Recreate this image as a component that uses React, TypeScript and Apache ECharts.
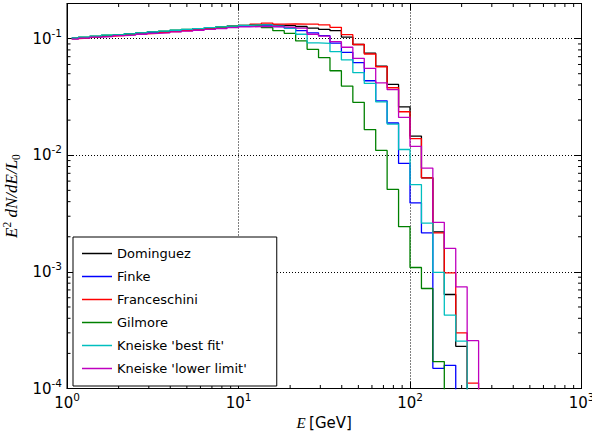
import React, { useEffect, useRef } from "react";
import * as echarts from "echarts";

// Bin edges (GeV): first bin starts at ~1.065, then 15 log bins per decade
const binEdges = [
  1.065, 1.166, 1.359, 1.585, 1.848, 2.154, 2.512, 2.929, 3.415, 3.981,
  4.642, 5.412, 6.31, 7.356, 8.577, 10.0, 11.66, 13.59, 15.85, 18.48,
  21.54, 25.12, 29.29, 34.15, 39.81, 46.42, 54.12, 63.1, 73.56, 85.77,
  100.0, 116.6, 135.9, 158.5, 184.8, 215.4, 251.2, 292.9,
];

const dominguez = [
  0.1, 0.102, 0.104, 0.106, 0.107, 0.109, 0.111, 0.113, 0.115, 0.117,
  0.119, 0.121, 0.123, 0.125, 0.127, 0.129, 0.131, 0.131, 0.13, 0.129,
  0.127, 0.123, 0.12, 0.117, 0.103, 0.089, 0.075, 0.058, 0.0405, 0.026,
  0.0146, 0.0064, 0.0022, 0.00064, 0.00023,
];
const finke = [
  0.101, 0.102, 0.104, 0.105, 0.107, 0.109, 0.111, 0.113, 0.115, 0.117,
  0.119, 0.12, 0.122, 0.124, 0.126, 0.128, 0.129, 0.129, 0.127, 0.123,
  0.117, 0.112, 0.106, 0.0913, 0.0763, 0.0622, 0.0435, 0.0293, 0.0189, 0.0085,
  0.0039, 0.00216, 0.000149, 0.000158,
];
const franceschini = [
  0.1, 0.101, 0.103, 0.105, 0.106, 0.108, 0.11, 0.111, 0.113, 0.115,
  0.117, 0.12, 0.122, 0.125, 0.128, 0.13, 0.133, 0.136, 0.133, 0.134,
  0.133, 0.133, 0.131, 0.125, 0.108, 0.089, 0.0738, 0.0574, 0.0379, 0.0236,
  0.0139, 0.0064, 0.00216, 0.00098, 0.0003, 0.000111,
];
const gilmore = [
  0.101, 0.103, 0.105, 0.107, 0.108, 0.11, 0.112, 0.114, 0.116, 0.118,
  0.12, 0.122, 0.124, 0.126, 0.128, 0.13, 0.13, 0.124, 0.117, 0.111,
  0.0955, 0.081, 0.0687, 0.053, 0.0392, 0.0284, 0.0166, 0.011, 0.00509, 0.00244,
  0.00109, 0.00072, 0.00017,
];
const kneiskeBest = [
  0.101, 0.103, 0.105, 0.107, 0.108, 0.11, 0.112, 0.114, 0.116, 0.118,
  0.12, 0.122, 0.124, 0.126, 0.128, 0.13, 0.131, 0.131, 0.128, 0.123,
  0.109, 0.092, 0.091, 0.0773, 0.0656, 0.051, 0.0413, 0.0287, 0.0185, 0.0112,
  0.0056, 0.00262, 0.00099, 0.000425, 0.000255,
];
const kneiskeLower = [
  0.099, 0.101, 0.103, 0.104, 0.106, 0.107, 0.109, 0.111, 0.112, 0.114,
  0.116, 0.118, 0.12, 0.122, 0.124, 0.126, 0.127, 0.127, 0.126, 0.125,
  0.123, 0.109, 0.105, 0.0942, 0.0843, 0.0678, 0.0556, 0.0418, 0.0365, 0.0211,
  0.0119, 0.00776, 0.00266, 0.00159, 0.000745, 0.000257,
];

const seriesNames = [
  "Dominguez",
  "Finke",
  "Franceschini",
  "Gilmore",
  "Kneiske 'best fit'",
  "Kneiske 'lower limit'",
];
const seriesValues = [dominguez, finke, franceschini, gilmore, kneiskeBest, kneiskeLower];
const seriesColors = ["#000000", "#0000ff", "#ff0000", "#008000", "#00bfbf", "#bf00bf"];

const xMinorTicks = [
  2, 3, 4, 5, 6, 7, 8, 9, 20, 30, 40, 50, 60, 70, 80, 90, 200, 300, 400, 500, 600, 700, 800, 900,
];
const yMinorTicks = [
  2e-4, 3e-4, 4e-4, 5e-4, 6e-4, 7e-4, 8e-4, 9e-4, 2e-3, 3e-3, 4e-3, 5e-3, 6e-3, 7e-3, 8e-3, 9e-3,
  2e-2, 3e-2, 4e-2, 5e-2, 6e-2, 7e-2, 8e-2, 9e-2,
];

function histData(values: number[]) {
  const pts: number[][] = values.map((v, i) => [binEdges[i], v]);
  pts.push([binEdges[values.length], 1e-9]);
  return pts;
}

const powLabel = (v: number) => {
  const e = Math.round(Math.log10(v));
  return `{b|10}{s|${e}}`;
};

const labelRich = {
  b: {
    fontSize: 15,
    fontFamily: "DejaVu Sans",
    color: "#000",
    lineHeight: 19,
    verticalAlign: "bottom",
  },
  s: {
    fontSize: 10.5,
    fontFamily: "DejaVu Sans",
    color: "#000",
    lineHeight: 19,
    verticalAlign: "top",
  },
};

export default function App() {
  const ref = useRef<HTMLDivElement>(null);
  useEffect(() => {
    if (!ref.current) return;
    const chart = echarts.init(ref.current, null, { renderer: "svg" });
    const axisLineStyle = { color: "#000", width: 1 };
    const lineSeries = seriesNames.map((name, i) => ({
      name,
      type: "line",
      step: "end",
      data: histData(seriesValues[i]),
      xAxisIndex: 0,
      yAxisIndex: 0,
      symbol: "none",
      showSymbol: false,
      clip: true,
      lineStyle: { color: seriesColors[i], width: 1.3 },
      itemStyle: { color: seriesColors[i] },
      z: 3,
    }));
    const option: any = {
      animation: false,
      backgroundColor: "#ffffff",
      grid: {
        left: 67,
        right: 10.5,
        top: 3.5,
        bottom: 42.5,
        show: true,
        borderColor: "#000",
        borderWidth: 1,
        backgroundColor: "transparent",
        outerBoundsMode: "none",
      },
      legend: {
        data: seriesNames,
        orient: "vertical",
        left: 73,
        top: 237,
        icon: "rect",
        itemWidth: 30,
        itemHeight: 1.5,
        itemGap: 8,
        itemTextGap: 14,
        padding: [9, 30, 10, 9],
        backgroundColor: "#ffffff",
        borderColor: "#000",
        borderWidth: 1,
        borderRadius: 0,
        textStyle: {
          fontSize: 13,
          fontFamily: "DejaVu Sans",
          color: "#000",
          lineHeight: 15,
          height: 15,
        },
        z: 20,
      },
      xAxis: [
        {
          type: "log",
          logBase: 10,
          min: 1,
          max: 1000,
          position: "bottom",
          axisLine: { show: true, lineStyle: axisLineStyle },
          axisTick: { show: true, inside: true, length: 7, lineStyle: axisLineStyle },
          axisLabel: { margin: 3, formatter: powLabel, rich: labelRich, color: "#000" },
          splitLine: {
            show: true,
            showMinLine: false,
            showMaxLine: false,
            lineStyle: { color: "#000", type: [1, 2], width: 1 },
          },
          name: "{i|E} {n|[GeV]}",
          nameLocation: "middle",
          nameGap: 21,
          nameTextStyle: {
            rich: {
              i: { fontSize: 15, fontFamily: "Liberation Serif", fontStyle: "italic", color: "#000" },
              n: { fontSize: 15, fontFamily: "DejaVu Sans", color: "#000" },
            },
          },
        },
        {
          type: "log",
          logBase: 10,
          min: 1,
          max: 1000,
          position: "top",
          axisLine: { show: true, lineStyle: axisLineStyle },
          axisTick: { show: true, inside: true, length: 7, lineStyle: axisLineStyle },
          axisLabel: { show: false },
          splitLine: { show: false },
        },
      ],
      yAxis: [
        {
          type: "log",
          logBase: 10,
          min: 1e-4,
          max: 0.2,
          position: "left",
          axisLine: { show: true, lineStyle: axisLineStyle },
          axisTick: { show: true, inside: true, length: 7, lineStyle: axisLineStyle },
          axisLabel: {
            margin: 5,
            formatter: powLabel,
            rich: labelRich,
            color: "#000",
            showMaxLabel: false,
            padding: [0, 0, 4, 0],
          },
          splitLine: {
            show: true,
            showMinLine: false,
            showMaxLine: false,
            lineStyle: { color: "#000", type: [1, 2], width: 1 },
          },
          name: "{i|E}{s|2}{i| dN/dE/L}{u|0}",
          nameLocation: "middle",
          nameGap: 43,
          nameRotate: 90,
          nameTextStyle: {
            rich: {
              i: {
                fontSize: 17,
                fontFamily: "Liberation Serif",
                fontStyle: "italic",
                color: "#000",
                lineHeight: 21,
                verticalAlign: "middle",
              },
              s: {
                fontSize: 11.5,
                fontFamily: "Liberation Serif",
                color: "#000",
                lineHeight: 21,
                verticalAlign: "top",
              },
              u: {
                fontSize: 11.5,
                fontFamily: "Liberation Serif",
                color: "#000",
                lineHeight: 21,
                verticalAlign: "bottom",
              },
            },
          },
        },
        {
          type: "log",
          logBase: 10,
          min: 1e-4,
          max: 0.2,
          position: "right",
          axisLine: { show: true, lineStyle: axisLineStyle },
          axisTick: { show: true, inside: true, length: 7, lineStyle: axisLineStyle },
          axisLabel: { show: false },
          splitLine: { show: false },
        },
      ],
      series: [
        ...lineSeries,
        {
          type: "custom",
          xAxisIndex: 0,
          yAxisIndex: 0,
          silent: true,
          z: 10,
          data: xMinorTicks.map((v) => [v, 0.01]),
          renderItem: (params: any, api: any) => {
            const p = api.coord([api.value(0), 0.01]);
            const cs = params.coordSys;
            const st = { stroke: "#000", lineWidth: 1 };
            return {
              type: "group",
              children: [
                { type: "line", shape: { x1: p[0], y1: cs.y + cs.height, x2: p[0], y2: cs.y + cs.height - 3.5 }, style: st },
                { type: "line", shape: { x1: p[0], y1: cs.y, x2: p[0], y2: cs.y + 3.5 }, style: st },
              ],
            };
          },
        },
        {
          type: "custom",
          xAxisIndex: 0,
          yAxisIndex: 0,
          silent: true,
          z: 10,
          data: yMinorTicks.map((v) => [10, v]),
          renderItem: (params: any, api: any) => {
            const p = api.coord([10, api.value(1)]);
            const cs = params.coordSys;
            const st = { stroke: "#000", lineWidth: 1 };
            return {
              type: "group",
              children: [
                { type: "line", shape: { x1: cs.x, y1: p[1], x2: cs.x + 3.5, y2: p[1] }, style: st },
                { type: "line", shape: { x1: cs.x + cs.width, y1: p[1], x2: cs.x + cs.width - 3.5, y2: p[1] }, style: st },
              ],
            };
          },
        },
      ],
    };
    chart.setOption(option);
    return () => chart.dispose();
  }, []);
  return (
    <div
      ref={ref}
      style={{ position: "absolute", left: 0, top: 0, width: 592, height: 431, background: "#fff" }}
    />
  );
}
